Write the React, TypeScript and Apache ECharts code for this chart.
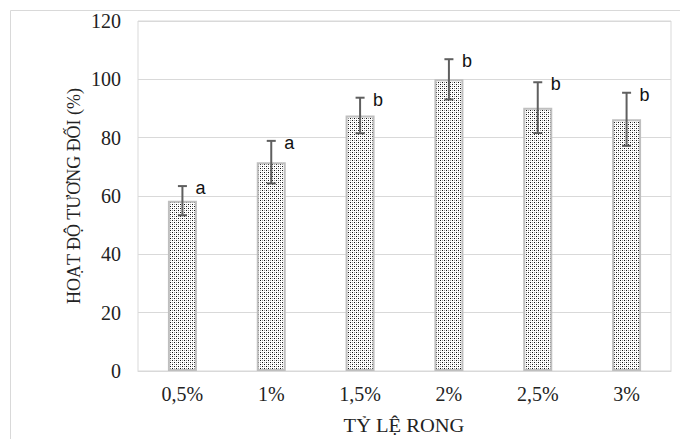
import React, { useEffect, useRef } from 'react';
import * as echarts from 'echarts';

const categories = ['0,5%', '1%', '1,5%', '2%', '2,5%', '3%'];
const values = [58.4, 71.6, 87.6, 100, 90.3, 86.3];
const errors = [5.0, 7.3, 6.1, 6.9, 8.7, 9.1];
const groupLabels = ['a', 'a', 'b', 'b', 'b', 'b'];
const yMin = 0;
const yMax = 120;
const yInterval = 20;
const xTitle = 'TỶ LỆ RONG';
const yTitle = 'HOẠT ĐỘ TƯƠNG ĐỐI (%)';

function makePattern(): string {
  const c = document.createElement('canvas');
  c.width = 4;
  c.height = 4;
  const ctx = c.getContext('2d')!;
  ctx.fillStyle = '#ffffff';
  ctx.fillRect(0, 0, 4, 4);
  ctx.fillStyle = '#111111';
  ctx.fillRect(0, 0, 1, 1);
  ctx.fillRect(2, 2, 1, 1);
  ctx.fillStyle = '#9a9a9a';
  ctx.fillRect(2, 0, 1, 1);
  ctx.fillRect(0, 2, 1, 1);
  return c.toDataURL();
}

export default function App() {
  const ref = useRef<HTMLDivElement>(null);
  useEffect(() => {
    if (!ref.current) return;
    const chart = echarts.init(ref.current, undefined, { renderer: 'svg' });
    const pattern = makePattern();
    const serif = '"Liberation Serif", "Times New Roman", serif';
    chart.setOption({
      animation: false,
      backgroundColor: '#ffffff',
      grid: {
        left: 138,
        right: 9,
        top: 21,
        bottom: 68,
        show: true,
        borderColor: '#d9d9d9',
        borderWidth: 1,
        backgroundColor: 'transparent',
      },
      xAxis: {
        type: 'category',
        data: categories,
        axisLine: { show: true, lineStyle: { color: '#d9d9d9', width: 1 } },
        axisTick: { show: false },
        axisLabel: { color: '#222', fontFamily: serif, fontSize: 20, margin: 13 },
      },
      yAxis: {
        type: 'value',
        min: yMin,
        max: yMax,
        interval: yInterval,
        axisLine: { show: false },
        axisTick: { show: false },
        splitLine: { lineStyle: { color: '#d9d9d9', width: 1 } },
        axisLabel: { color: '#222', fontFamily: serif, fontSize: 20, margin: 17 },
      },
      graphic: [
        {
          type: 'rect',
          shape: { x: 10.5, y: 10.5, width: 700, height: 500 },
          style: { fill: 'none', stroke: '#d9d9d9', lineWidth: 1 },
          silent: true,
        },
        {
          type: 'text',
          x: 404,
          y: 425,
          scaleX: 1.08,
          style: {
            text: xTitle,
            font: `19px ${serif}`,
            fill: '#222',
            align: 'center',
            verticalAlign: 'middle',
          },
        },
        {
          type: 'text',
          x: 73,
          y: 196,
          rotation: Math.PI / 2,
          scaleY: 1.1,
          style: {
            text: yTitle,
            font: `18px ${serif}`,
            fill: '#222',
            align: 'center',
            verticalAlign: 'middle',
          },
        },
      ],
      series: [
        {
          type: 'bar',
          data: values,
          barWidth: 29,
          itemStyle: {
            color: { image: pattern, repeat: 'repeat' },
            borderColor: '#bfbfbf',
            borderWidth: 2,
          },
        },
        {
          type: 'custom',
          data: categories.map((_, i) => [i, values[i], errors[i]]),
          z: 10,
          renderItem: (params: any, api: any) => {
            const idx = api.value(0);
            const v = api.value(1);
            const e = api.value(2);
            const top = api.coord([idx, v + e]);
            const bot = api.coord([idx, v - e]);
            const cap = 4.5;
            const ls = { stroke: '#5f5f5f', lineWidth: 2 };
            return {
              type: 'group',
              children: [
                { type: 'line', shape: { x1: top[0], y1: top[1], x2: bot[0], y2: bot[1] }, style: ls },
                { type: 'line', shape: { x1: top[0] - cap, y1: top[1], x2: top[0] + cap, y2: top[1] }, style: ls },
                { type: 'line', shape: { x1: bot[0] - cap, y1: bot[1], x2: bot[0] + cap, y2: bot[1] }, style: ls },
                {
                  type: 'text',
                  x: top[0] + 13,
                  y: top[1] + 2,
                  style: {
                    text: groupLabels[params.dataIndex],
                    font: '18px "Liberation Sans", Arial, sans-serif',
                    fill: '#111',
                    align: 'left',
                    verticalAlign: 'middle',
                  },
                },
              ],
            };
          },
        },
      ],
    });
    return () => chart.dispose();
  }, []);
  return (
    <div
      ref={ref}
      style={{ position: 'absolute', left: 0, top: 0, width: 680, height: 439 }}
    />
  );
}
